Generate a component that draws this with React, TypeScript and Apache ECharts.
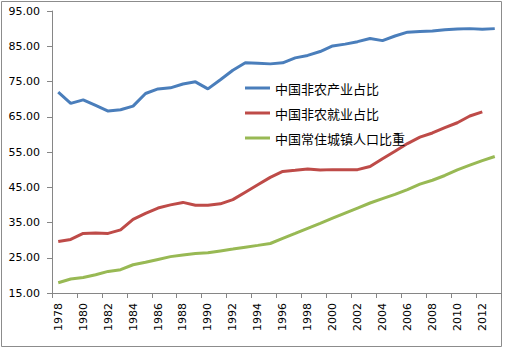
import React, { useEffect, useRef } from "react";
import * as echarts from "echarts";

const years: string[] = [];
for (let y = 1978; y <= 2013; y++) years.push(String(y));

const nonAgIndustry = [
  72.0, 68.8, 69.8, 68.2, 66.6, 67.0, 68.0, 71.6, 72.9, 73.2, 74.3, 74.9,
  72.9, 75.5, 78.2, 80.3, 80.2, 80.0, 80.3, 81.7, 82.4, 83.5, 85.1, 85.6,
  86.3, 87.2, 86.6, 87.9, 89.0, 89.2, 89.3, 89.7, 89.9, 90.0, 89.8, 90.0,
];

const nonAgEmployment = [
  29.6, 30.2, 31.9, 32.0, 31.9, 32.9, 35.9, 37.6, 39.1, 40.0, 40.7, 39.9,
  39.9, 40.3, 41.5, 43.6, 45.7, 47.8, 49.5, 49.8, 50.2, 49.9, 50.0, 50.0,
  50.0, 50.9, 53.1, 55.2, 57.4, 59.2, 60.4, 61.9, 63.3, 65.2, 66.4,
];

const urbanization = [
  17.92, 18.96, 19.39, 20.16, 21.13, 21.62, 23.01, 23.71, 24.52, 25.32, 25.81, 26.21,
  26.41, 26.94, 27.46, 27.99, 28.51, 29.04, 30.48, 31.91, 33.35, 34.78, 36.22, 37.66,
  39.09, 40.53, 41.76, 42.99, 44.34, 45.89, 46.99, 48.34, 49.95, 51.27, 52.57, 53.73,
];

const seriesNames = ["中国非农产业占比", "中国非农就业占比", "中国常住城镇人口比重"];
const colors = ["#4A7EBB", "#BE4B48", "#98B954"];

export default function App() {
  const ref = useRef<HTMLDivElement>(null);
  useEffect(() => {
    if (!ref.current) return;
    const chart = echarts.init(ref.current, undefined, { renderer: "svg" });
    const data = [nonAgIndustry, nonAgEmployment, urbanization];
    chart.setOption({
      animation: false,
      color: colors,
      textStyle: { fontFamily: "DejaVu Sans" },
      grid: { left: 52, right: 4, top: 11, bottom: 56, containLabel: false },
      graphic: [
        {
          type: "rect",
          shape: { x: 1.5, y: 1.5, width: 500, height: 345 },
          style: { fill: "none", stroke: "#8c8c8c", lineWidth: 1 },
          silent: true,
          z: -1,
        },
      ],
      legend: {
        orient: "vertical",
        left: 240,
        top: 76,
        itemWidth: 25,
        itemHeight: 3,
        itemGap: 11,
        icon: "rect",
        data: seriesNames,
        textStyle: {
          fontFamily: "Noto Sans CJK SC",
          fontSize: 13,
          lineHeight: 14,
          color: "#000",
        },
      },
      xAxis: {
        type: "category",
        data: years,
        boundaryGap: true,
        axisLine: { show: true, lineStyle: { color: "#868686", width: 1 } },
        axisTick: { show: true, interval: 1, length: 5, lineStyle: { color: "#868686" } },
        axisLabel: {
          interval: 1,
          rotate: 90,
          margin: 10,
          fontSize: 11,
          color: "#000",
          fontFamily: "DejaVu Sans",
        },
        splitLine: { show: false },
      },
      yAxis: {
        type: "value",
        min: 15,
        max: 95,
        interval: 10,
        axisLine: { show: true, lineStyle: { color: "#868686", width: 1 } },
        axisTick: { show: true, length: 5, lineStyle: { color: "#868686" } },
        axisLabel: {
          margin: 12,
          fontSize: 11,
          color: "#000",
          fontFamily: "DejaVu Sans",
          formatter: (v: number) => v.toFixed(2),
        },
        splitLine: { show: false },
      },
      series: seriesNames.map((name, i) => ({
        name,
        type: "line",
        data: data[i],
        showSymbol: false,
        symbol: "none",
        lineStyle: { width: 3, color: colors[i] },
        itemStyle: { color: colors[i] },
      })),
    });
    return () => chart.dispose();
  }, []);
  return (
    <div
      ref={ref}
      style={{ position: "fixed", left: 0, top: 0, width: 505, height: 349, background: "#fff" }}
    />
  );
}
